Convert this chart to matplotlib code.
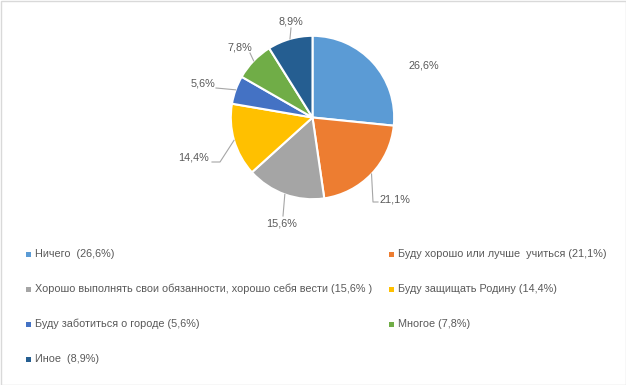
import numpy as np
import matplotlib
matplotlib.use("Agg")
import matplotlib.pyplot as plt
from matplotlib.patches import Rectangle

plt.rcParams['font.family'] = ['Liberation Sans', 'DejaVu Sans']

# data
values = [26.6, 21.1, 15.6, 14.4, 5.6, 7.8, 8.9]
pct_labels = ['26,6%', '21,1%', '15,6%', '14,4%', '5,6%', '7,8%', '8,9%']
legend_labels = ['Ничего  (26,6%)',
                 'Буду хорошо или лучше  учиться (21,1%)',
                 'Хорошо выполнять свои обязанности, хорошо себя вести (15,6% )',
                 'Буду защищать Родину (14,4%)',
                 'Буду заботиться о городе (5,6%)',
                 'Многое (7,8%)',
                 'Иное  (8,9%)']
colors = ['#5B9BD5', '#ED7D31', '#A5A5A5', '#FFC000', '#4472C4', '#70AD47', '#255E91']

W, H = 626, 385
fig = plt.figure(figsize=(W/100, H/100), dpi=100)
ax = fig.add_axes([0, 0, 1, 1])

cx, cy, r = 312.5, 117.5, 81.7
txtc = '#595959'

# y axis is inverted, so counterclock=True draws clockwise on screen
wedges, _ = ax.pie(values, colors=colors, startangle=-90, counterclock=True,
                   center=(cx, cy), radius=r, frame=True,
                   wedgeprops=dict(edgecolor='white', linewidth=1.5))
ax.set_xlim(0, W)
ax.set_ylim(H, 0)
ax.set_aspect('equal')
ax.axis('off')

# label layout: text position, alignment, leader elbow points
layout = [
    ((424, 65), 'center', []),
    ((379, 200), 'left', [(373, 202), (378, 202)]),
    ((282, 224), 'center', [(283, 216)]),
    ((209, 157), 'right', [(220, 162), (212, 162)]),
    ((215, 83), 'right', [(216, 88)]),
    ((240, 47), 'center', [(250, 53)]),
    ((291, 22), 'center', [(291, 28)]),
]

cum = np.cumsum([0] + values[:-1])
for i, v in enumerate(values):
    mid = (cum[i] + v / 2) / sum(values) * 2 * np.pi
    sx = cx + r * np.sin(mid)
    sy = cy - r * np.cos(mid)
    (tx, ty), ha, pts = layout[i]
    if pts:
        xs = [sx] + [p[0] for p in pts]
        ys = [sy] + [p[1] for p in pts]
        ax.plot(xs, ys, color='#A6A6A6', lw=0.8)
    ax.text(tx, ty, pct_labels[i], ha=ha, va='center', fontsize=7.8, color=txtc)

# legend, two columns
col_x = [26, 389]
row_y = [254, 289, 324, 359]
for i, lab in enumerate(legend_labels):
    x = col_x[i % 2]
    y = row_y[i // 2]
    ax.add_patch(Rectangle((x, y - 2.5), 5, 5, color=colors[i], lw=0))
    ax.text(x + 9, y, lab, ha='left', va='center', fontsize=7.8, color=txtc)

ax.add_patch(Rectangle((0.5, 0.5), W - 1, H - 1, fill=False, edgecolor='#D9D9D9', lw=1))

fig.savefig('out.png', dpi=100)
